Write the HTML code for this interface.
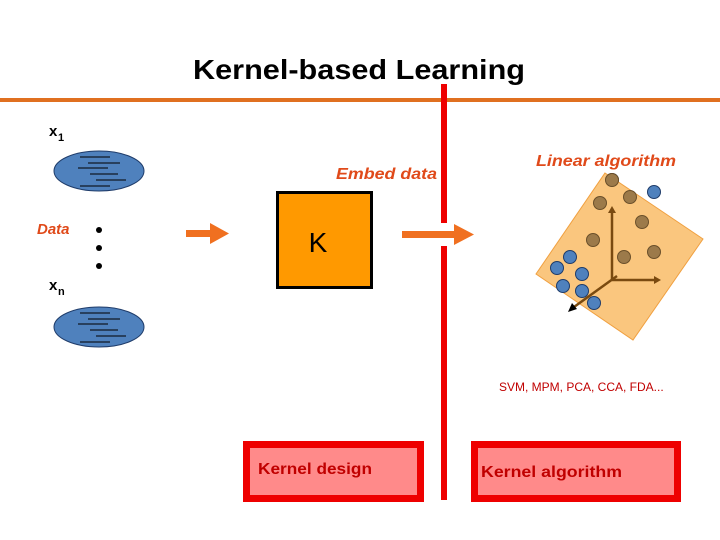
<!DOCTYPE html><html><head><style>body{margin:0;width:720px;height:540px;background:#fff;overflow:hidden}</style></head><body>
<svg width="720" height="540" xmlns="http://www.w3.org/2000/svg" style="display:block">
<text x="193" y="79" textLength="332" lengthAdjust="spacingAndGlyphs" font-family="Liberation Sans, sans-serif" font-weight="bold" font-size="28" fill="#000">Kernel-based Learning</text>
<rect x="0" y="98" width="720" height="4" fill="#e07020"/>
<rect x="441" y="84" width="6" height="139" fill="#ee0000"/>
<rect x="441" y="246" width="6" height="254" fill="#ee0000"/>
<text x="49" y="136" font-family="Liberation Sans, sans-serif" font-weight="bold" font-size="15">x</text><text x="58" y="141" font-family="Liberation Sans, sans-serif" font-weight="bold" font-size="11">1</text>
<ellipse cx="99" cy="171" rx="45" ry="20" fill="#4f81bd" stroke="#1f3c6a" stroke-width="1"/>
<g stroke="#000" stroke-width="1"><line x1="80" y1="157" x2="110" y2="157"/><line x1="88" y1="163" x2="120" y2="163"/><line x1="78" y1="168" x2="108" y2="168"/><line x1="90" y1="174" x2="118" y2="174"/><line x1="96" y1="180" x2="126" y2="180"/><line x1="80" y1="186" x2="110" y2="186"/></g>
<text x="37" y="234" font-family="Liberation Sans, sans-serif" font-style="italic" font-weight="bold" font-size="15" fill="#e04a1a">Data</text>
<circle cx="99" cy="230" r="3"/><circle cx="99" cy="248" r="3"/><circle cx="99" cy="266" r="3"/>
<text x="49" y="290" font-family="Liberation Sans, sans-serif" font-weight="bold" font-size="15">x</text><text x="58" y="295" font-family="Liberation Sans, sans-serif" font-weight="bold" font-size="11">n</text>
<ellipse cx="99" cy="327" rx="45" ry="20" fill="#4f81bd" stroke="#1f3c6a" stroke-width="1"/>
<g stroke="#000" stroke-width="1"><line x1="80" y1="313" x2="110" y2="313"/><line x1="88" y1="319" x2="120" y2="319"/><line x1="78" y1="324" x2="108" y2="324"/><line x1="90" y1="330" x2="118" y2="330"/><line x1="96" y1="336" x2="126" y2="336"/><line x1="80" y1="342" x2="110" y2="342"/></g>
<rect x="186" y="230" width="26" height="7" fill="#f07020"/><polygon points="210,223 229,233.5 210,244" fill="#f07020"/>
<rect x="402" y="231" width="54" height="7" fill="#f07020"/><polygon points="454,224 474,234.5 454,245" fill="#f07020"/>
<text x="336" y="179" textLength="101" lengthAdjust="spacingAndGlyphs" font-family="Liberation Sans, sans-serif" font-style="italic" font-weight="bold" font-size="16" fill="#e04a1a">Embed data</text>
<rect x="277.5" y="192.5" width="94" height="95" fill="#ff9900" stroke="#000" stroke-width="3"/>
<text x="318" y="252" text-anchor="middle" font-family="Liberation Sans, sans-serif" font-size="28">K</text>
<text x="536" y="166" textLength="140" lengthAdjust="spacingAndGlyphs" font-family="Liberation Sans, sans-serif" font-style="italic" font-weight="bold" font-size="16" fill="#e04a1a">Linear algorithm</text>
<circle cx="612" cy="180" r="6.5" fill="#4f81bd" stroke="#1f3c6a"/>
<polygon points="605,173 703,239 633,340 536,274" fill="#fac070" fill-opacity="0.9" stroke="#f0a040"/>
<g fill="#9c7a4a" stroke="#6a4f2a" stroke-width="1"><circle cx="612" cy="180" r="6.5"/><circle cx="600" cy="203" r="6.5"/><circle cx="630" cy="197" r="6.5"/><circle cx="642" cy="222" r="6.5"/><circle cx="593" cy="240" r="6.5"/><circle cx="654" cy="252" r="6.5"/><circle cx="624" cy="257" r="6.5"/></g>
<g fill="#4f81bd" stroke="#1f3c6a" stroke-width="1"><circle cx="654" cy="192" r="6.5"/><circle cx="570" cy="257" r="6.5"/><circle cx="557" cy="268" r="6.5"/><circle cx="582" cy="274" r="6.5"/><circle cx="563" cy="286" r="6.5"/><circle cx="582" cy="291" r="6.5"/><circle cx="594" cy="303" r="6.5"/></g>
<g stroke="#7a4a10" stroke-width="2.5" fill="#7a4a10"><line x1="612" y1="280" x2="612" y2="212"/><polygon points="608,213 612,206 616,213" stroke="none"/><line x1="612" y1="280" x2="655" y2="280"/><polygon points="654,276 661,280 654,284" stroke="none"/><line x1="617" y1="276" x2="574" y2="307"/></g>
<polygon points="568,312 572,303 577,309" fill="#000"/>
<text x="499" y="391" font-family="Liberation Sans, sans-serif" font-size="12" fill="#c00000">SVM, MPM, PCA, CCA, FDA...</text>
<rect x="246.5" y="444.5" width="174" height="54" fill="#ff8a8a" stroke="#ee0000" stroke-width="7"/>
<text x="258" y="474" textLength="114" lengthAdjust="spacingAndGlyphs" font-family="Liberation Sans, sans-serif" font-weight="bold" font-size="16" fill="#c00000">Kernel design</text>
<rect x="474.5" y="444.5" width="203" height="54" fill="#ff8a8a" stroke="#ee0000" stroke-width="7"/>
<text x="481" y="477" textLength="141" lengthAdjust="spacingAndGlyphs" font-family="Liberation Sans, sans-serif" font-weight="bold" font-size="16" fill="#c00000">Kernel algorithm</text>
</svg></body></html>
